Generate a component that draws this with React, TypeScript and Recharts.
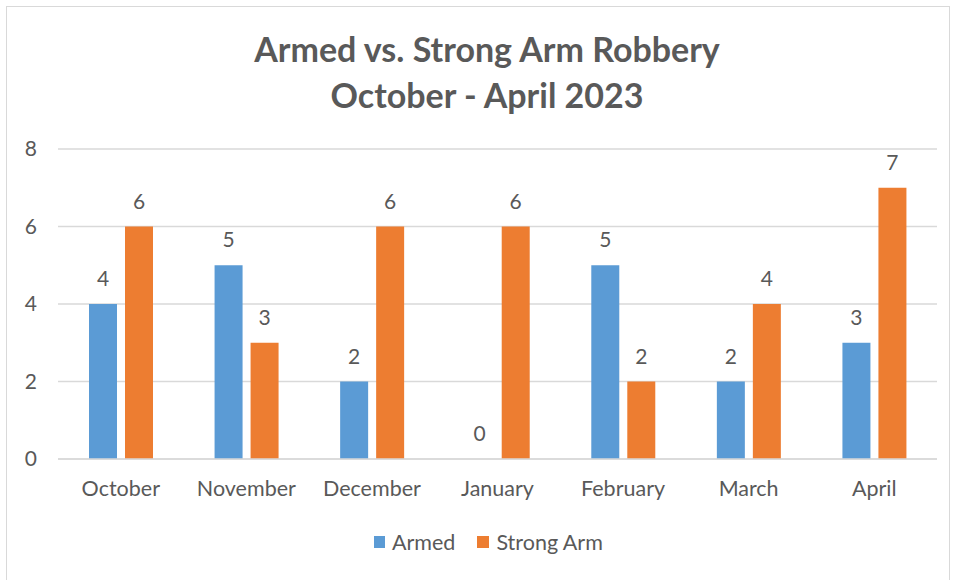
import { BarChart, Bar, XAxis, YAxis, CartesianGrid, LabelList } from 'recharts'

const months = ['October', 'November', 'December', 'January', 'February', 'March', 'April']
const armed = [4, 5, 2, 0, 5, 2, 3]
const strongArm = [6, 3, 6, 6, 2, 4, 7]
const yTicks = [0, 2, 4, 6, 8]

const data = months.map((m, i) => ({ month: m, armed: armed[i], strongArm: strongArm[i] }))

const FONT = 'Lato, "Open Sans", sans-serif'
const TEXT = '#595959'

function ValueLabel(props: any) {
  const { x, y, width, value } = props
  return (
    <text x={x + width / 2} y={y - 18} textAnchor="middle" fill={TEXT} fontSize={21} fontFamily={FONT}>
      {String(value)}
    </text>
  )
}

export default function App() {
  return (
    <div style={{ position: 'fixed', left: 0, top: 0, width: 959, height: 580, background: '#fff', fontFamily: FONT }}>
      <div style={{ position: 'absolute', left: 6, top: 6, width: 944, height: 580, border: '1px solid #d9d9d9', boxSizing: 'border-box' }} />
      <div style={{ position: 'absolute', left: 0, width: 974, top: 26, textAlign: 'center', color: TEXT, fontWeight: 700, fontSize: 34, lineHeight: '46px' }}>
        Armed vs. Strong Arm Robbery
        <br />
        October - April 2023
      </div>
      <div style={{ position: 'absolute', left: 0, top: 0 }}>
        <BarChart
          width={959}
          height={580}
          data={data}
          margin={{ top: 149, right: 22, bottom: 91, left: 0 }}
          barCategoryGap={31}
          barGap={8}
        >
          <CartesianGrid vertical={false} stroke="#d9d9d9" strokeWidth={1.5} />
          <XAxis
            dataKey="month"
            height={30}
            axisLine={{ stroke: '#d9d9d9', strokeWidth: 1.5 }}
            tickLine={false}
            tick={{ fill: TEXT, fontSize: 21.5, fontFamily: FONT }}
            tickMargin={16}
            interval={0}
          />
          <YAxis
            width={58}
            domain={[0, 8]}
            ticks={yTicks}
            axisLine={false}
            tickLine={false}
            tickMargin={15}
            tick={{ fill: TEXT, fontSize: 21, fontFamily: FONT }}
          />
          <Bar dataKey="armed" fill="#5b9bd5" minPointSize={0.001} isAnimationActive={false}>
            <LabelList dataKey="armed" content={ValueLabel} />
          </Bar>
          <Bar dataKey="strongArm" fill="#ed7d31" isAnimationActive={false}>
            <LabelList dataKey="strongArm" content={ValueLabel} />
          </Bar>
        </BarChart>
      </div>
      <div style={{ position: 'absolute', top: 529, left: 374, display: 'flex', alignItems: 'center', color: TEXT, fontSize: 21.5 }}>
        <span style={{ width: 11, height: 12, background: '#5b9bd5', display: 'inline-block', marginRight: 7 }} />
        <span>Armed</span>
        <span style={{ width: 12, height: 12, background: '#ed7d31', display: 'inline-block', marginLeft: 22, marginRight: 7 }} />
        <span>Strong Arm</span>
      </div>
    </div>
  )
}
